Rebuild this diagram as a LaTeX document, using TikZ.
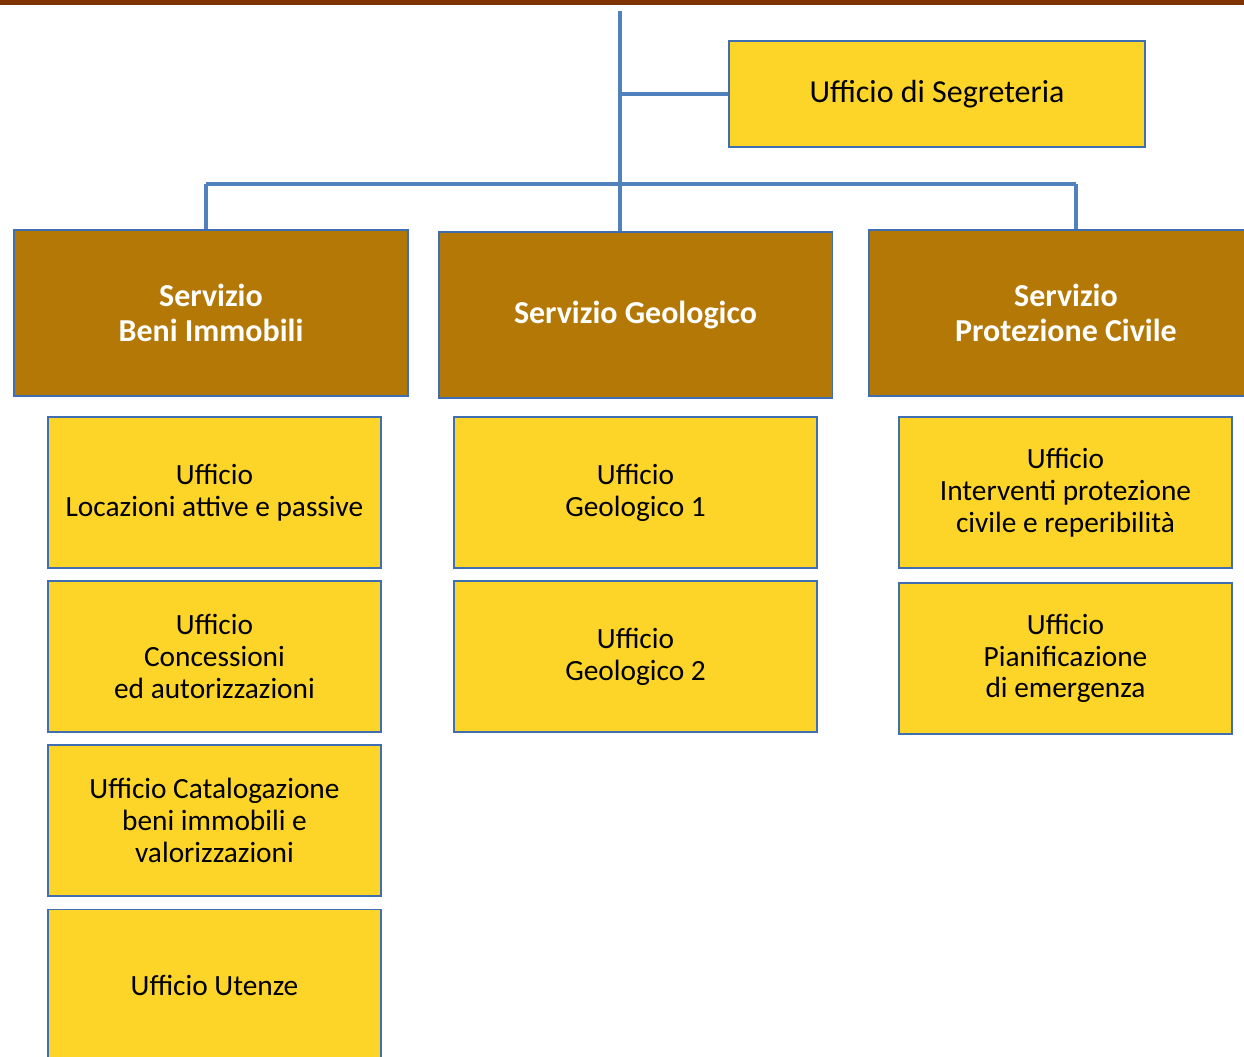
\documentclass[tikz,border=0pt]{standalone}
\usepackage{fontspec}
\setmainfont{Carlito}
\definecolor{ufficioyellow}{RGB}{253,213,41}
\definecolor{serviziobrown}{RGB}{180,120,6}
\definecolor{topbrown}{RGB}{128,51,4}
\definecolor{linkblue}{RGB}{79,129,189}
\definecolor{boxblue}{RGB}{63,111,176}
\begin{document}
\begin{tikzpicture}[x=0.02cm, y=-0.02cm]
\tikzstyle{ufficio} = [
  draw = boxblue,
  line width = 1.1pt,
  fill = ufficioyellow,
  align = center,
  minimum width = 6.66cm,
  minimum height = 3.02cm,
  font = \fontsize{16.7}{18.1}\selectfont
]
\tikzstyle{servizio} = [
  draw = boxblue,
  line width = 1.1pt,
  fill = serviziobrown,
  text = white,
  align = center,
  minimum width = 7.88cm,
  minimum height = 3.32cm,
  font = \fontsize{18.2}{19.8}\selectfont\bfseries
]
\tikzstyle{link} = [
  draw = linkblue,
  line width = 2.8pt
]

\useasboundingbox (0,0) rectangle (1244,1056);
\clip (0,0) rectangle (1244,1056);
\fill [topbrown] (0,0) rectangle (1244,5);

\node [ufficio, minimum width=8.32cm, minimum height=2.12cm, font=\fontsize{18.2}{20}\selectfont] (seg) at (937,94) {Ufficio di Segreteria};

\node [servizio] (bi) at (211,313) {Servizio\\Beni Immobili};
\node [servizio] (sg) at (635.5,315) {Servizio Geologico};
\node [servizio] (pc) at (1066,313) {Servizio\\Protezione Civile};

\node [ufficio] (bi1) at (214.5,492.5) {Ufficio\\Locazioni attive e passive};
\node [ufficio] (bi2) at (214.5,656.5) {Ufficio\\Concessioni\\ed autorizzazioni};
\node [ufficio] (bi3) at (214.5,820.5) {Ufficio Catalogazione\\beni immobili e\\valorizzazioni};
\node [ufficio] (bi4) at (214.5,985) {Ufficio Utenze};

\node [ufficio, minimum width=7.26cm] (sg1) at (635.5,492.5) {Ufficio\\Geologico 1};
\node [ufficio, minimum width=7.26cm] (sg2) at (635.5,656.5) {Ufficio\\Geologico 2};

\node [ufficio] (pc1) at (1065.5,492.5) {Ufficio\\Interventi protezione\\civile e reperibilità};
\node [ufficio] (pc2) at (1065.5,658.5) {Ufficio\\Pianificazione\\di emergenza};

\coordinate (top) at (620,11);
\coordinate (segjoin) at (620,94);
\coordinate (barl) at (206,184);
\coordinate (barr) at (1076,184);

\draw [link] (top) -- (top |- sg.north);
\draw [link] (segjoin) -- (seg.west);
\draw [link] (barl) -- (barr);
\draw [link] (barl) -- (barl |- bi.north);
\draw [link] (barr) -- (barr |- pc.north);

\end{tikzpicture}
\end{document}
